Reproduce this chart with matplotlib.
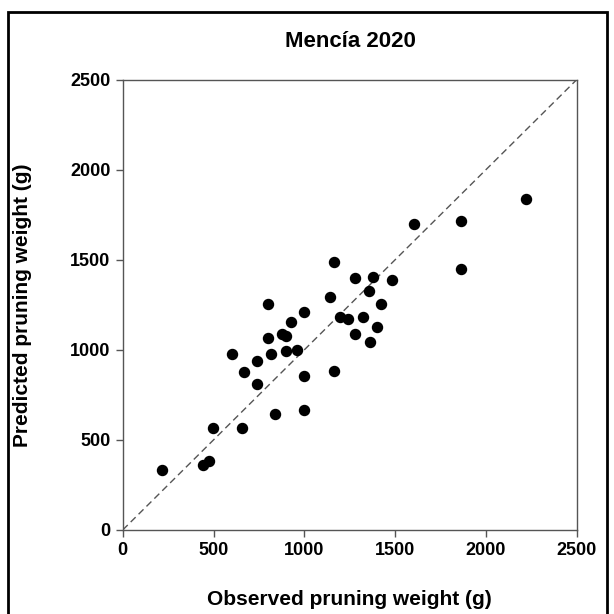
import matplotlib.pyplot as plt
from matplotlib.patches import Rectangle

plt.rcParams['font.family'] = ['Liberation Sans', 'DejaVu Sans']

# Observed vs predicted pruning weight (g)
observed = [218, 440, 477, 499, 659, 837, 998, 738, 670, 998, 1164, 600, 738,
            817, 898, 962, 802, 879, 898, 929, 998, 802, 1140, 1164, 1199, 1243,
            1279, 1322, 1360, 1401, 1423, 1358, 1279, 1380, 1481, 1602, 1861,
            1861, 2223]
predicted = [330, 361, 383, 565, 565, 644, 665, 811, 876, 854, 880, 976, 939,
             976, 993, 998, 1067, 1087, 1078, 1154, 1211, 1254, 1291, 1489, 1180,
             1169, 1089, 1180, 1041, 1126, 1254, 1328, 1398, 1404, 1387, 1698,
             1713, 1450, 1837]
ticks = [0, 500, 1000, 1500, 2000, 2500]

fig = plt.figure(figsize=(6.14, 6.14), dpi=100)
ax = fig.add_axes([0.200, 0.137, 0.739, 0.733])

# 1:1 line
ax.plot([0, 2500], [0, 2500], linestyle=(0, (5, 3)), color='#555555', linewidth=1)
ax.scatter(observed, predicted, s=52, color='black', zorder=3)

ax.set_xlim(0, 2500)
ax.set_ylim(0, 2500)
ax.set_xticks(ticks)
ax.set_yticks(ticks)
for lab in ax.get_xticklabels() + ax.get_yticklabels():
    lab.set_fontweight('bold')
    lab.set_fontsize(13)
ax.tick_params(direction='out', length=5, width=1, color='#555555', pad=4)
for sp in ax.spines.values():
    sp.set_color('#555555')
    sp.set_linewidth(1)

ax.set_xlabel('Observed pruning weight (g)', fontsize=15, fontweight='bold', labelpad=22)
ax.set_ylabel('Predicted pruning weight (g)', fontsize=15, fontweight='bold', labelpad=27)
fig.text(0.571, 0.933, 'Mencía 2020', ha='center', va='center', fontsize=16, fontweight='bold')

# outer frame
fig.patches.append(Rectangle((8 / 614, -0.02), 599 / 614, 1 - 12 / 614 + 0.02,
                             transform=fig.transFigure, fill=False,
                             edgecolor='black', linewidth=2))

fig.savefig('out.png', dpi=100)
